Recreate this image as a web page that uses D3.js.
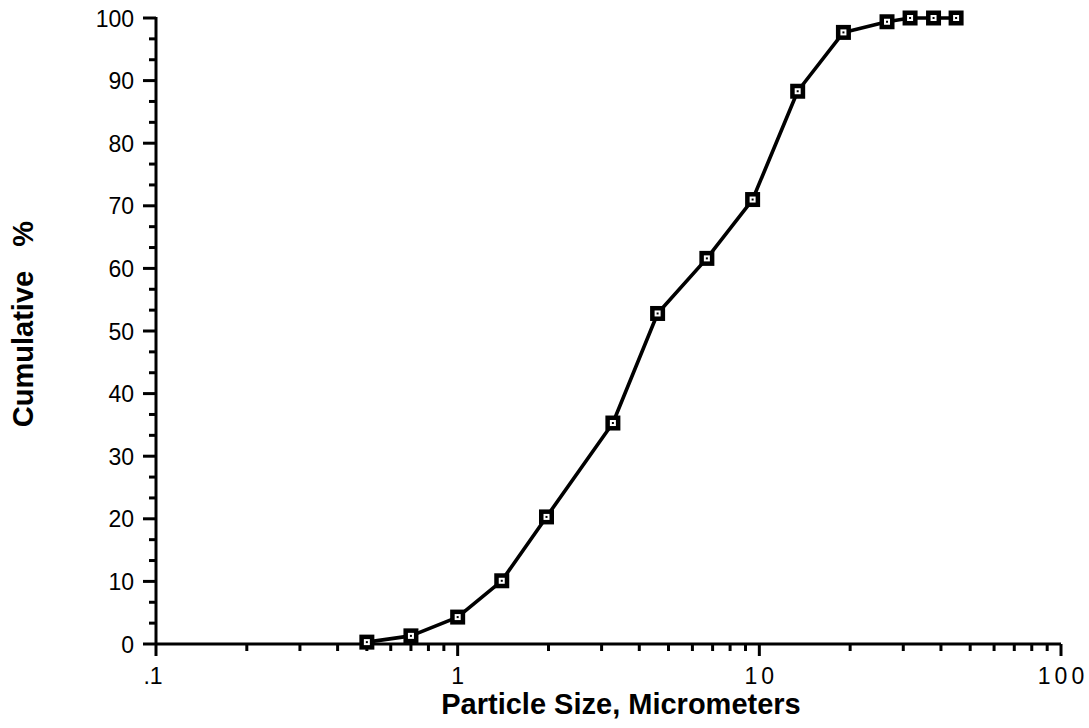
<!DOCTYPE html>
<html><head><meta charset="utf-8">
<script src="https://cdn.jsdelivr.net/npm/d3@7"></script>
<style>body{margin:0;background:#fff}svg{display:block}</style>
</head><body>
<svg id="c" width="1089" height="728"></svg>
<script>
const sizes = [0.5, 0.7, 1.0, 1.4, 1.97, 3.27, 4.6, 6.7, 9.5, 13.4, 19.0, 26.5, 31.6, 37.8, 44.9];
const cumulative = [0.3, 1.3, 4.3, 10.1, 20.3, 35.3, 52.8, 61.6, 71.0, 88.3, 97.7, 99.4, 100, 100, 100];
const xTickValues = [0.1, 1, 10, 100];
const xTickLabels = [".1", "1", "10", "100"];
const yTickValues = [0, 10, 20, 30, 40, 50, 60, 70, 80, 90, 100];

const svg = d3.select("#c");
const x = d3.scaleLog().domain([0.1, 100]).range([156, 1061]);
const y = d3.scaleLinear().domain([0, 100]).range([644, 18]);
const font = "'Liberation Sans', Arial, Helvetica, sans-serif";

const xMinor = [];
[0.1, 1, 10].forEach(d => { for (let k = 2; k <= 9; k++) xMinor.push(d * k); });
const yMinor = [];
for (let v = 0; v < 100; v += 10) { yMinor.push(v + 10/3, v + 20/3); }

const gx = svg.append("g");
gx.selectAll(".mn").data(xMinor).join("line")
  .attr("x1", d => x(d)).attr("x2", d => x(d)).attr("y1", y(0)).attr("y2", y(0) + 7)
  .attr("stroke", "#000").attr("stroke-width", 3);
gx.selectAll(".mj").data(xTickValues).join("line")
  .attr("x1", d => x(d)).attr("x2", d => x(d)).attr("y1", y(0)).attr("y2", y(0) + 12)
  .attr("stroke", "#000").attr("stroke-width", 3);
gx.selectAll("text").data(xTickValues).join("text")
  .attr("x", (d, i) => x(d) + (i >= 2 ? 2 : (i === 0 ? -3 : 0))).attr("y", 684)
  .attr("text-anchor", "middle").attr("font-family", font).attr("font-size", 23)
  .attr("letter-spacing", (d, i) => i >= 2 ? "4px" : "0px")
  .text((d, i) => xTickLabels[i]);

const gy = svg.append("g");
gy.selectAll(".mn").data(yMinor).join("line")
  .attr("x1", x(0.1) - 7).attr("x2", x(0.1)).attr("y1", d => y(d)).attr("y2", d => y(d))
  .attr("stroke", "#000").attr("stroke-width", 3);
gy.selectAll(".mj").data(yTickValues).join("line")
  .attr("x1", x(0.1) - 13).attr("x2", x(0.1)).attr("y1", d => y(d)).attr("y2", d => y(d))
  .attr("stroke", "#000").attr("stroke-width", 3);
gy.selectAll("text").data(yTickValues).join("text")
  .attr("x", 134).attr("y", d => y(d) + 8.5)
  .attr("text-anchor", "end").attr("font-family", font).attr("font-size", 23)
  .text(d => d);

svg.append("line").attr("x1", x(0.1)).attr("x2", x(100)).attr("y1", y(0)).attr("y2", y(0))
  .attr("stroke", "#000").attr("stroke-width", 3);
svg.append("line").attr("x1", x(0.1)).attr("x2", x(0.1)).attr("y1", y(100) - 1).attr("y2", y(0) + 1)
  .attr("stroke", "#000").attr("stroke-width", 3);

const pts = sizes.map((s, i) => [s, cumulative[i]]);
svg.append("path").datum(pts)
  .attr("d", d3.line().x(d => x(d[0])).y(d => y(d[1])))
  .attr("fill", "none").attr("stroke", "#000").attr("stroke-width", 3.6).attr("stroke-linejoin", "round");
const m = svg.append("g").selectAll("g").data(pts).join("g")
  .attr("transform", d => `translate(${x(d[0])},${y(d[1])})`);
m.append("rect").attr("x", -7.5).attr("y", -7.5).attr("width", 15).attr("height", 15).attr("fill", "#000");
m.append("rect").attr("x", -3).attr("y", -3).attr("width", 6).attr("height", 6).attr("fill", "#fff");
m.append("rect").attr("x", -1).attr("y", -1).attr("width", 2).attr("height", 2).attr("fill", "#000");

svg.append("text").attr("x", 621).attr("y", 714).attr("text-anchor", "middle")
  .attr("font-family", font).attr("font-weight", "bold").attr("font-size", 29)
  .text("Particle Size, Micrometers");
svg.append("text").attr("transform", "translate(33,324) rotate(-90)").attr("text-anchor", "middle")
  .attr("font-family", font).attr("font-weight", "bold").attr("font-size", 29)
  .attr("xml:space", "preserve").style("white-space", "pre")
  .text("Cumulative   %");
</script>
</body></html>
